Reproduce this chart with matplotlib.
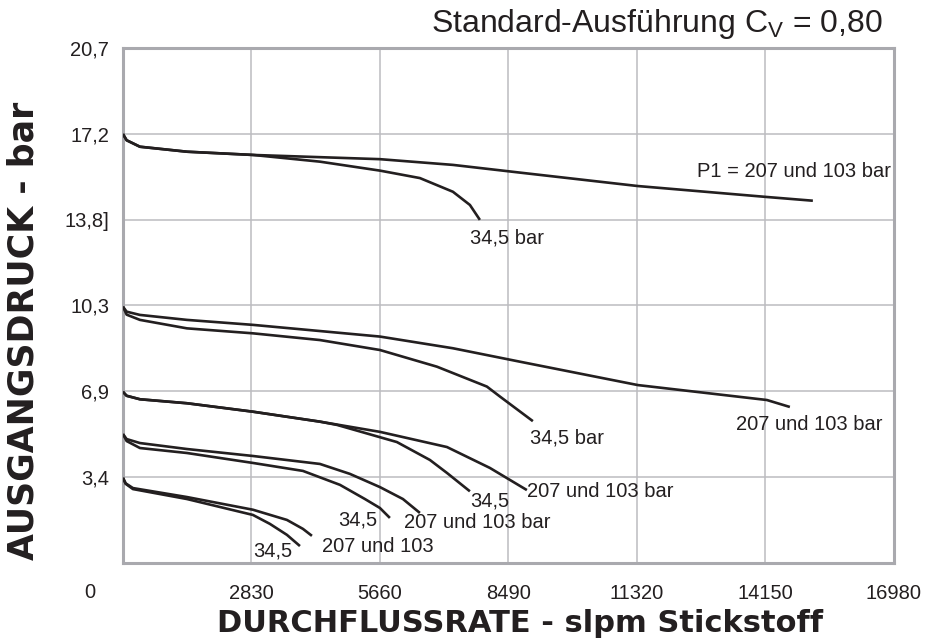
import numpy as np
import matplotlib
matplotlib.use("Agg")
import matplotlib.pyplot as plt

plt.rcParams['font.family'] = ['Liberation Sans', 'DejaVu Sans']
plt.rcParams['mathtext.fontset'] = 'custom'
plt.rcParams['mathtext.rm'] = 'Liberation Sans'

#%% data (x = slpm, y = bar)
# top group, start 17,2 bar
a207_x = [0, 81, 374, 1409, 2863, 5659, 7267, 8742, 11340, 14181, 15194]
a207_y = [17.24, 16.99, 16.73, 16.53, 16.40, 16.23, 16.00, 15.69, 15.15, 14.71, 14.56]
a345_x = [0, 81, 374, 1409, 2863, 4338, 5659, 6540, 7267, 7641, 7861]
a345_y = [17.24, 16.99, 16.73, 16.53, 16.40, 16.13, 15.77, 15.47, 14.92, 14.39, 13.79]

# start 10,3 bar
b207_x = [0, 81, 374, 1409, 2863, 5659, 7267, 8742, 11340, 14181, 14688]
b207_y = [10.30, 10.10, 9.97, 9.77, 9.57, 9.10, 8.63, 8.09, 7.15, 6.55, 6.27]
b345_x = [0, 81, 374, 1409, 2863, 4338, 5659, 6914, 8015, 8302, 9028]
b345_y = [10.30, 9.98, 9.77, 9.43, 9.23, 8.96, 8.56, 7.89, 7.09, 6.69, 5.70]

# start 6,9 bar
c207_x = [0, 81, 374, 1409, 2863, 4338, 5659, 7135, 8081, 8896]
c207_y = [6.88, 6.72, 6.58, 6.42, 6.08, 5.68, 5.27, 4.66, 3.82, 2.93]
c345_x = [0, 81, 374, 1409, 2863, 4338, 4712, 6033, 6760, 7135, 7641]
c345_y = [6.88, 6.72, 6.58, 6.42, 6.08, 5.68, 5.55, 4.86, 4.14, 3.62, 2.88]

# start 5,2 bar
d207_x = [0, 81, 374, 1409, 2863, 4338, 4999, 5659, 6166, 6540]
d207_y = [5.18, 4.98, 4.82, 4.58, 4.30, 3.98, 3.58, 3.05, 2.57, 2.01]
d345_x = [0, 81, 374, 1409, 2863, 3964, 4779, 5329, 5659, 5879]
d345_y = [5.18, 4.90, 4.62, 4.42, 4.02, 3.70, 3.14, 2.57, 2.21, 1.81]

# start 3,4 bar
e207_x = [0, 60, 220, 1409, 2863, 3611, 3964, 4162]
e207_y = [3.42, 3.20, 3.01, 2.65, 2.14, 1.73, 1.37, 1.09]
e345_x = [0, 60, 220, 1409, 2863, 3237, 3611, 3898]
e345_y = [3.42, 3.18, 2.97, 2.57, 1.93, 1.57, 1.13, 0.68]

curves = [(a207_x, a207_y), (a345_x, a345_y), (b207_x, b207_y), (b345_x, b345_y),
          (c207_x, c207_y), (c345_x, c345_y), (d207_x, d207_y), (d345_x, d345_y),
          (e207_x, e207_y), (e345_x, e345_y)]

# curve labels: text, x, y (left edge, vertical centre)
labels = [('P1 = 207 und 103 bar', 12640, 15.73),
          ('34,5 bar', 7641, 13.06),
          ('207 und 103 bar', 13498, 5.55),
          ('34,5 bar', 8962, 5.01),
          ('207 und 103 bar', 8889, 2.87),
          ('34,5', 7641, 2.50),
          ('207 und 103 bar', 6188, 1.62),
          ('34,5', 4741, 1.73),
          ('207 und 103', 4375, 0.66),
          ('34,5', 2870, 0.47)]

xticks = [2830, 5660, 8490, 11320, 14150, 16980]
yticks = [3.45, 6.9, 10.35, 13.8, 17.25, 20.7]
ytick_labels = ['3,4', '6,9', '10,3', '13,8]', '17,2', '20,7']

#%%
ink = '#231f20'
grid_c = '#bcbcc0'

fig = plt.figure(figsize=(9.28, 6.42), dpi=100)
ax = fig.add_axes([0.1325, 0.1231, 0.8308, 0.8022])

for cx, cy in curves:
    ax.plot(cx, cy, color=ink, lw=1.9, solid_capstyle='butt', zorder=3)

for txt, tx, ty in labels:
    ax.text(tx, ty, txt, fontsize=14.5, color=ink, ha='left', va='center', zorder=4)

ax.set_xlim(0, 16980)
ax.set_ylim(0, 20.7)
ax.set_xticks(xticks)
ax.set_xticklabels([str(v) for v in xticks])
ax.set_yticks(yticks)
ax.set_yticklabels(ytick_labels)
ax.tick_params(length=0, labelsize=14.5, labelcolor=ink)
ax.tick_params(axis='x', pad=15)
ax.tick_params(axis='y', pad=10)
ax.grid(True, color=grid_c, lw=1.1, zorder=0)
for s in ax.spines.values():
    s.set_color('#a9a9ae')
    s.set_linewidth(2.2)

# lone "0" at the corner
fig.text(90 / 928, 1 - 593 / 642, '0', fontsize=14.5, color=ink, ha='center', va='center')

fig.text(883 / 928, 1 - 24 / 642, r'Standard-Ausführung C$_{\mathrm{V}}$ = 0,80',
         fontsize=23, color=ink, ha='right', va='center')

fig.text(520 / 928, 1 - 623 / 642, 'DURCHFLUSSRATE - slpm Stickstoff',
         fontsize=22, fontweight='bold', family='DejaVu Sans', color=ink,
         ha='center', va='center')
fig.text(24 / 928, 1 - 331 / 642, 'AUSGANGSDRUCK - bar',
         fontsize=25, fontweight='bold', family='DejaVu Sans', color=ink,
         ha='center', va='center', rotation=90)

plt.savefig('out.png', dpi=100)
